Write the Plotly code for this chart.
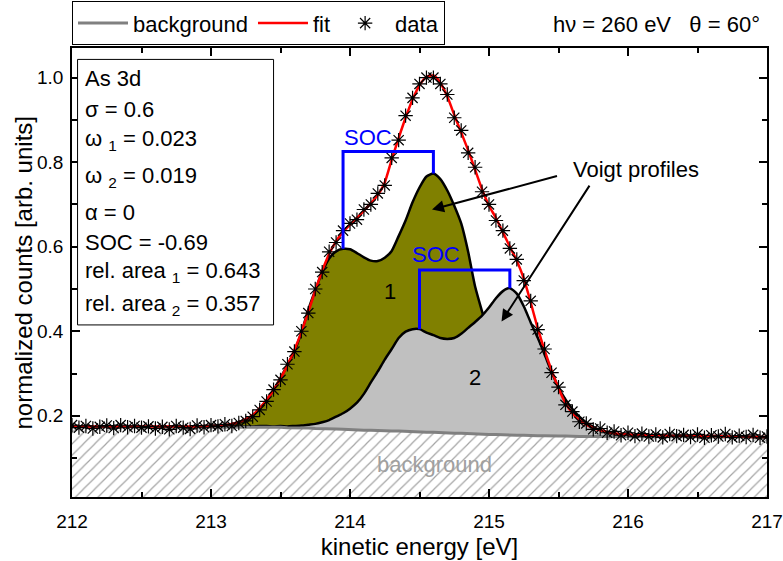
import numpy as np
import plotly.graph_objects as go

# ---- measured spectrum (As 3d, hv = 260 eV) ----
energy = np.round(np.linspace(212.0, 217.0, 101), 2)

counts = [
    0.178, 0.172, 0.176, 0.170, 0.174, 0.177, 0.171, 0.178, 0.173, 0.176,
    0.172, 0.175, 0.170, 0.174, 0.168, 0.176, 0.172, 0.169, 0.177, 0.173,
    0.178, 0.175, 0.180, 0.176, 0.183, 0.188, 0.198, 0.214, 0.234, 0.262,
    0.285, 0.322, 0.352, 0.400, 0.443, 0.500, 0.540, 0.588, 0.610, 0.638,
    0.655, 0.664, 0.688, 0.700, 0.726, 0.745, 0.810, 0.852, 0.910, 0.952,
    0.985, 1.000, 1.000, 0.985, 0.960, 0.905, 0.875, 0.822, 0.788, 0.730,
    0.700, 0.662, 0.638, 0.596, 0.570, 0.520, 0.472, 0.404, 0.358, 0.302,
    0.268, 0.226, 0.210, 0.186, 0.182, 0.168, 0.170, 0.160, 0.163, 0.154,
    0.160, 0.152, 0.158, 0.151, 0.156, 0.149, 0.157, 0.152, 0.155, 0.150,
    0.156, 0.148, 0.154, 0.151, 0.157, 0.149, 0.153, 0.150, 0.155, 0.148,
    0.151,
]

fit = [
    0.175, 0.175, 0.175, 0.175, 0.175, 0.175, 0.175, 0.175, 0.175, 0.175,
    0.175, 0.175, 0.175, 0.175, 0.175, 0.175, 0.175, 0.175, 0.175, 0.176,
    0.176, 0.177, 0.178, 0.181, 0.185, 0.192, 0.202, 0.218, 0.238, 0.261,
    0.288, 0.320, 0.356, 0.398, 0.446, 0.496, 0.543, 0.583, 0.613, 0.635,
    0.652, 0.668, 0.685, 0.703, 0.722, 0.752, 0.806, 0.857, 0.905, 0.948,
    0.982, 1.002, 1.005, 0.988, 0.955, 0.912, 0.870, 0.828, 0.782, 0.736,
    0.697, 0.668, 0.634, 0.600, 0.567, 0.525, 0.468, 0.408, 0.355, 0.308,
    0.265, 0.230, 0.206, 0.190, 0.179, 0.171, 0.166, 0.162, 0.159, 0.157,
    0.156, 0.155, 0.155, 0.154, 0.154, 0.154, 0.153, 0.153, 0.153, 0.153,
    0.152, 0.152, 0.152, 0.152, 0.151, 0.151, 0.151, 0.151, 0.150, 0.150,
    0.150,
]

background = [
    0.174, 0.174, 0.174, 0.174, 0.174, 0.174, 0.174, 0.174, 0.174, 0.174,
    0.174, 0.174, 0.174, 0.174, 0.174, 0.174, 0.174, 0.174, 0.174, 0.174,
    0.174, 0.174, 0.174, 0.174, 0.174, 0.174, 0.174, 0.174, 0.174, 0.173,
    0.173, 0.172, 0.172, 0.171, 0.171, 0.170, 0.170, 0.169, 0.169, 0.168,
    0.167, 0.167, 0.166, 0.166, 0.165, 0.165, 0.164, 0.164, 0.163, 0.163,
    0.162, 0.161, 0.161, 0.160, 0.160, 0.159, 0.159, 0.158, 0.157, 0.157,
    0.156, 0.156, 0.155, 0.155, 0.154, 0.154, 0.153, 0.153, 0.153, 0.152,
    0.152, 0.152, 0.151, 0.151, 0.151, 0.151, 0.151, 0.151, 0.151, 0.151,
    0.151, 0.150, 0.150, 0.150, 0.150, 0.150, 0.150, 0.150, 0.150, 0.150,
    0.150, 0.150, 0.150, 0.150, 0.150, 0.150, 0.150, 0.150, 0.150, 0.150,
    0.150,
]

# Voigt doublets, height above the background, on 213.00 ... 216.00 eV
COMP_SLICE = slice(20, 81)
component1 = [
    0.002, 0.003, 0.004, 0.006, 0.010, 0.017, 0.027, 0.043, 0.063, 0.088,
    0.117, 0.148, 0.181, 0.226, 0.280, 0.327, 0.370, 0.403, 0.420, 0.427,
    0.427, 0.418, 0.409, 0.401, 0.401, 0.409, 0.426, 0.461, 0.499, 0.542,
    0.578, 0.605, 0.612, 0.600, 0.573, 0.538, 0.496, 0.430, 0.349, 0.290,
    0.235, 0.185, 0.142, 0.108, 0.080, 0.058, 0.040, 0.027, 0.018, 0.012,
    0.008, 0.005, 0.003, 0.002, 0.001, 0.000, 0.000, 0.000, 0.000, 0.000,
    0.000,
]
component2 = [
    0.000, 0.000, 0.000, 0.000, 0.001, 0.001, 0.001, 0.002, 0.002, 0.002,
    0.003, 0.003, 0.004, 0.006, 0.008, 0.011, 0.015, 0.021, 0.029, 0.038,
    0.050, 0.064, 0.086, 0.113, 0.140, 0.168, 0.194, 0.220, 0.236, 0.242,
    0.243, 0.236, 0.230, 0.224, 0.222, 0.225, 0.235, 0.250, 0.265, 0.280,
    0.300, 0.322, 0.340, 0.347, 0.335, 0.305, 0.268, 0.232, 0.192, 0.152,
    0.115, 0.087, 0.065, 0.047, 0.033, 0.023, 0.015, 0.010, 0.007, 0.004,
    0.002,
]

info_lines = [
    "As 3d",
    "σ = 0.6",
    "ω <sub>1</sub> = 0.023",
    "ω <sub>2</sub> = 0.019",
    "α = 0",
    "SOC = -0.69",
    "rel. area <sub>1</sub> = 0.643",
    "rel. area <sub>2</sub> = 0.357",
]

FONT = "Liberation Sans, Arial, sans-serif"
OLIVE = "#808000"
SILVER = "#C0C0C0"

comp_e = energy[COMP_SLICE]
bg_arr = np.array(background)
bg_c = bg_arr[COMP_SLICE]
top1 = bg_c + np.array(component1)
top2 = bg_c + np.array(component2)

fig = go.Figure()

# hatched area under the background
fig.add_trace(go.Scatter(
    x=energy, y=background, mode="lines", line=dict(width=0),
    fill="tozeroy", fillcolor="white",
    fillpattern=dict(shape="/", fgcolor="#4a4a4a", bgcolor="white",
                     size=8, solidity=0.15),
    showlegend=False, hoverinfo="skip"))

# component 1 (olive), filled down to the background
fig.add_trace(go.Scatter(x=comp_e, y=bg_c, mode="lines", line=dict(width=0),
                         showlegend=False, hoverinfo="skip"))
fig.add_trace(go.Scatter(
    x=comp_e, y=top1, mode="lines",
    line=dict(color="black", width=2.5, shape="spline", smoothing=0.6),
    fill="tonexty", fillcolor=OLIVE, showlegend=False, hoverinfo="skip"))

# component 2 (silver), filled down to the background
fig.add_trace(go.Scatter(x=comp_e, y=bg_c, mode="lines", line=dict(width=0),
                         showlegend=False, hoverinfo="skip"))
fig.add_trace(go.Scatter(
    x=comp_e, y=top2, mode="lines",
    line=dict(color="black", width=2.5, shape="spline", smoothing=0.6),
    fill="tonexty", fillcolor=SILVER, showlegend=False, hoverinfo="skip"))

# background line, fit, data
fig.add_trace(go.Scatter(
    x=energy, y=background, mode="lines", name="background",
    line=dict(color="#808080", width=3)))
fig.add_trace(go.Scatter(
    x=energy, y=fit, mode="lines", name="fit",
    line=dict(color="red", width=2.5, shape="spline", smoothing=0.6)))
fig.add_trace(go.Scatter(
    x=energy, y=counts, mode="markers", name="data",
    marker=dict(symbol="asterisk-open", size=12, color="black",
                line=dict(width=1.2, color="black"))))

# spin-orbit brackets between the two peaks of each doublet
c1 = np.array(component1)
c2 = np.array(component2)
split1 = comp_e < 214.3
split2 = comp_e < 214.8
p1a = comp_e[split1][np.argmax(c1[split1])]
p1b = comp_e[~split1][np.argmax(c1[~split1])]
p2a = comp_e[split2][np.argmax(c2[split2])]
p2b = comp_e[~split2][np.argmax(c2[~split2])]
h1a = top1[split1].max()
h1b = top1[~split1].max()
h2a = top2[split2].max()
h2b = top2[~split2].max()

shapes = [
    dict(type="path", xref="x", yref="y",
         path=f"M {p1a},{h1a} L {p1a},0.825 L {p1b},0.825 L {p1b},{h1b}",
         line=dict(color="blue", width=3)),
    dict(type="path", xref="x", yref="y",
         path=f"M {p2a},{h2a} L {p2a},0.545 L {p2b},0.545 L {p2b},{h2b}",
         line=dict(color="blue", width=3)),
    # parameter box
    dict(type="rect", xref="x", yref="y", x0=212.04, x1=213.45,
         y0=0.415, y1=1.043, line=dict(color="black", width=1),
         fillcolor="white", layer="above"),
]

annotations = []
info_y = [0.998, 0.924, 0.853, 0.766, 0.680, 0.609, 0.541, 0.463]
for txt, yy in zip(info_lines, info_y):
    annotations.append(dict(x=212.078, y=yy, xref="x", yref="y", text=txt,
                            showarrow=False, xanchor="left", yanchor="middle",
                            font=dict(size=22)))

annotations += [
    dict(x=214.13, y=0.858, xref="x", yref="y", text="SOC", showarrow=False,
         font=dict(size=22, color="blue")),
    dict(x=214.62, y=0.581, xref="x", yref="y", text="SOC", showarrow=False,
         font=dict(size=22, color="blue")),
    dict(x=214.29, y=0.494, xref="x", yref="y", text="1", showarrow=False,
         font=dict(size=22)),
    dict(x=214.90, y=0.290, xref="x", yref="y", text="2", showarrow=False,
         font=dict(size=22)),
    dict(x=216.06, y=0.782, xref="x", yref="y", text="Voigt profiles",
         showarrow=False, font=dict(size=22)),
    dict(x=214.61, y=0.084, xref="x", yref="y", text="background",
         showarrow=False, font=dict(size=22, color="#a0a0a0")),
    dict(x=214.59, y=0.688, xref="x", yref="y", ax=215.50, ay=0.768,
         axref="x", ayref="y", text="", showarrow=True, arrowhead=2,
         arrowsize=1.2, arrowwidth=2, arrowcolor="black"),
    dict(x=215.09, y=0.423, xref="x", yref="y", ax=215.73, ay=0.748,
         axref="x", ayref="y", text="", showarrow=True, arrowhead=2,
         arrowsize=1.2, arrowwidth=2, arrowcolor="black"),
    dict(x=0.993, y=1.052, xref="paper", yref="paper",
         text="hν = 260 eV\u00a0\u00a0\u00a0θ = 60°", showarrow=False,
         xanchor="right", yanchor="middle", font=dict(size=22)),
    # y-axis title
    dict(x=-0.0705, y=0.5, xref="paper", yref="paper",
         text="normalized counts [arb. units]", textangle=-90,
         showarrow=False, xanchor="center", yanchor="middle",
         font=dict(size=24)),
]

axis_common = dict(
    showline=True, linecolor="black", linewidth=1.5, mirror="ticks",
    ticks="inside", ticklen=8, tickwidth=1.5, tickcolor="black",
    showgrid=False, zeroline=False, tickfont=dict(size=19),
)

fig.update_layout(
    width=783, height=561,
    margin=dict(l=72, r=16, t=48, b=64, autoexpand=False),
    paper_bgcolor="white", plot_bgcolor="white",
    font=dict(family=FONT, size=20, color="black"),
    shapes=shapes, annotations=annotations,
    legend=dict(orientation="h", x=0, y=1.006, xanchor="left",
                yanchor="bottom", bordercolor="black", borderwidth=1,
                bgcolor="white", font=dict(size=22), traceorder="normal",
                itemwidth=50),
    xaxis=dict(range=[212, 217], tick0=212, dtick=1,
               minor=dict(dtick=0.5, ticks="inside", ticklen=5,
                          tickcolor="black", tickwidth=1.5),
               title=dict(text="kinetic energy [eV]", font=dict(size=24),
                          standoff=8),
               ticklabelstandoff=6, **axis_common),
    yaxis=dict(range=[0.008, 1.07], tick0=0, dtick=0.2, tickformat=".1f",
               minor=dict(dtick=0.1, ticks="inside", ticklen=5,
                          tickcolor="black", tickwidth=1.5),
               ticklabelstandoff=3, **axis_common),
)

fig.write_html("out.html")
